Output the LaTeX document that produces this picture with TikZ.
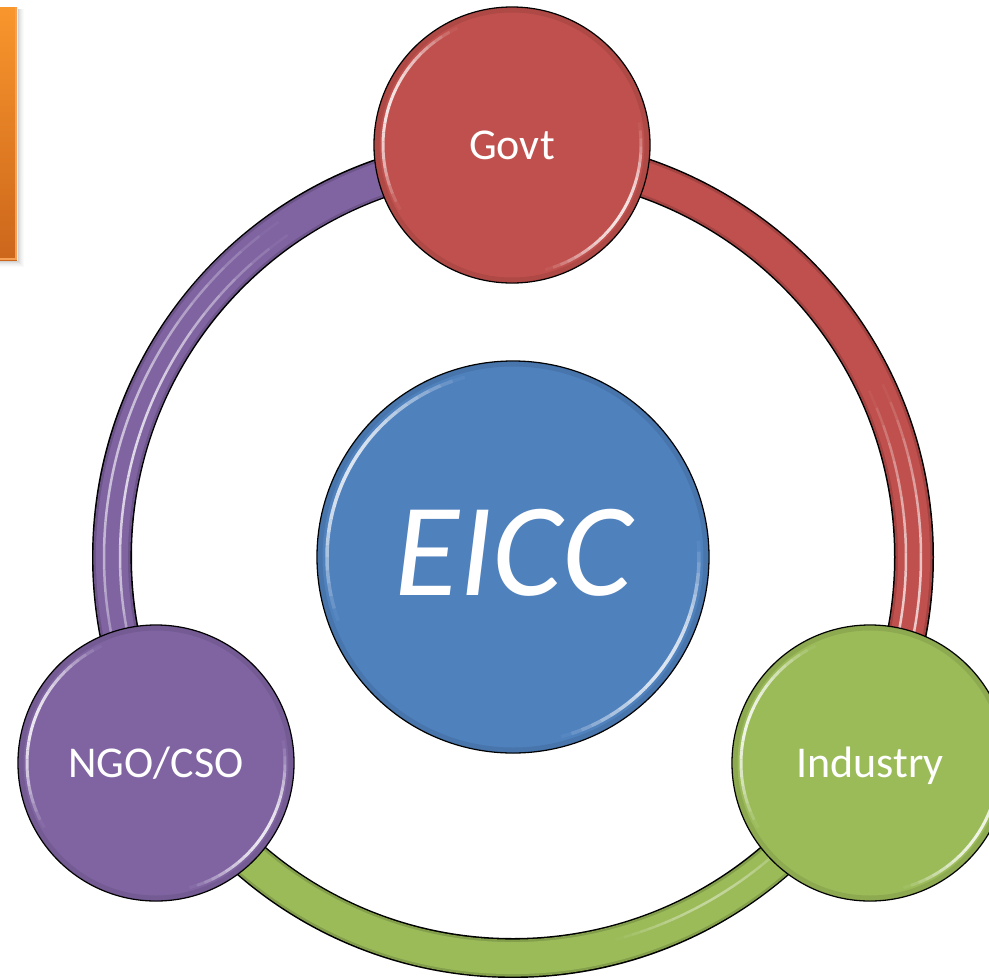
\documentclass[tikz,border=0pt]{standalone}
\usepackage{fontspec}
\setmainfont{Carlito}
\usetikzlibrary{calc}
\pgfdeclarelayer{bg}
\pgfsetlayers{bg,main}
\definecolor{cred}{HTML}{C0504D}
\definecolor{cgreen}{HTML}{9BBB59}
\definecolor{cpurple}{HTML}{8064A2}
\definecolor{cblue}{HTML}{4F81BD}
\definecolor{corangetop}{HTML}{F9962C}
\definecolor{corangebot}{HTML}{CC661C}
\definecolor{corangeedge}{HTML}{F7A055}
% soft highlight arc: centre, radius, start, end, width, max opacity
\newcommand{\glint}[6]{%
  \foreach \k in {0,...,23}{%
    \pgfmathsetmacro{\ga}{(#3)+((#4)-(#3))*\k/24}%
    \pgfmathsetmacro{\gb}{(#3)+((#4)-(#3))*(\k+1)/24}%
    \pgfmathsetmacro{\go}{(#6)*sin(180*(\k+0.5)/24)}%
    \draw[white, line width=#5, opacity=\go] ($(#1)+(\ga:#2)$) arc[start angle=\ga, end angle=\gb, radius=#2];%
  }%
}
\begin{document}
\begin{tikzpicture}[x=1pt,y=1pt,
  bubble/.style={circle, draw=black, line width=1.3pt, inner sep=0pt, text=white,
    minimum size=276pt, font=\fontsize{44}{50}\selectfont, text height=28pt, text depth=0pt},
  bigbubble/.style={bubble, minimum size=392pt, font=\fontsize{133}{150}\selectfont\itshape,
    text height=86pt, text depth=10pt},
  bandout/.style={black, line width=40pt},
  bandedge/.style={#1!85!black, line width=37pt},
  bandcore/.style={#1, line width=32pt},
  rimshade/.style={#1!75!black, opacity=0.35, line width=5pt}
]
\useasboundingbox (0,0) rectangle (989,-978);

% orange bar at the left edge, with a soft shadow
\foreach \s/\o in {1/0.18,2/0.13,3/0.09,4/0.06,5/0.04,6/0.02}{
  \fill[black, opacity=\o] (17+\s,-9) rectangle (18+\s,-261-\s);
  \fill[black, opacity=\o] (-5,-260-\s) rectangle (17+\s,-261-\s);
}
\shade[top color=corangetop, bottom color=corangebot] (-5,-7) rectangle (17,-260);
\draw[corangeedge, line width=2pt] (16,-7) -- (16,-259) -- (-5,-259);

% nodes
\node[bigbubble, fill=cblue] (eicc) at (513,-557) {EICC};
\node[bubble, fill=cred] (govt) at (512,-145) {Govt};
\node[bubble, fill=cgreen] (industry) at (870,-763) {Industry};
\node[bubble, fill=cpurple] (ngo) at (156,-763) {NGO/CSO};

% rim shading and gloss of the bubbles
\draw[rimshade=cblue] (eicc.center) circle[radius=193pt];
\draw[rimshade=cred] (govt.center) circle[radius=135pt];
\draw[rimshade=cgreen] (industry.center) circle[radius=135pt];
\draw[rimshade=cpurple] (ngo.center) circle[radius=135pt];
\glint{eicc.center}{186pt}{105}{200}{3.5pt}{0.8}
\glint{eicc.center}{186pt}{5}{-75}{3.5pt}{0.8}
\glint{govt.center}{129pt}{115}{210}{3pt}{0.85}
\glint{govt.center}{129pt}{10}{-75}{3pt}{0.85}
\glint{industry.center}{129pt}{115}{210}{3pt}{0.85}
\glint{industry.center}{129pt}{10}{-75}{3pt}{0.85}
\glint{ngo.center}{129pt}{115}{210}{3pt}{0.85}
\glint{ngo.center}{129pt}{10}{-75}{3pt}{0.85}

% ring connectors behind the bubbles
\begin{pgfonlayer}{bg}
  \draw[bandout] (eicc.center) circle[radius=401pt];
  % govt -> industry
  \draw[bandedge=cred] ($(eicc.center)+(90:401pt)$) arc[start angle=90, end angle=-30, radius=401pt];
  \draw[bandcore=cred] ($(eicc.center)+(90:401pt)$) arc[start angle=90, end angle=-30, radius=401pt];
  % industry -> ngo
  \draw[bandedge=cgreen] ($(eicc.center)+(-30:401pt)$) arc[start angle=-30, end angle=-150, radius=401pt];
  \draw[bandcore=cgreen] ($(eicc.center)+(-30:401pt)$) arc[start angle=-30, end angle=-150, radius=401pt];
  % ngo -> govt
  \draw[bandedge=cpurple] ($(eicc.center)+(210:401pt)$) arc[start angle=210, end angle=90, radius=401pt];
  \draw[bandcore=cpurple] ($(eicc.center)+(210:401pt)$) arc[start angle=210, end angle=90, radius=401pt];
  % band highlights
  \glint{eicc.center}{409pt}{125}{205}{2.5pt}{0.6}
  \glint{eicc.center}{393pt}{125}{205}{2.5pt}{0.75}
  \glint{eicc.center}{408pt}{25}{-40}{2.5pt}{0.7}
  \glint{eicc.center}{393pt}{25}{-40}{2.5pt}{0.7}
  \glint{eicc.center}{396pt}{-45}{-75}{2.5pt}{0.4}
\end{pgfonlayer}
\end{tikzpicture}
\end{document}
